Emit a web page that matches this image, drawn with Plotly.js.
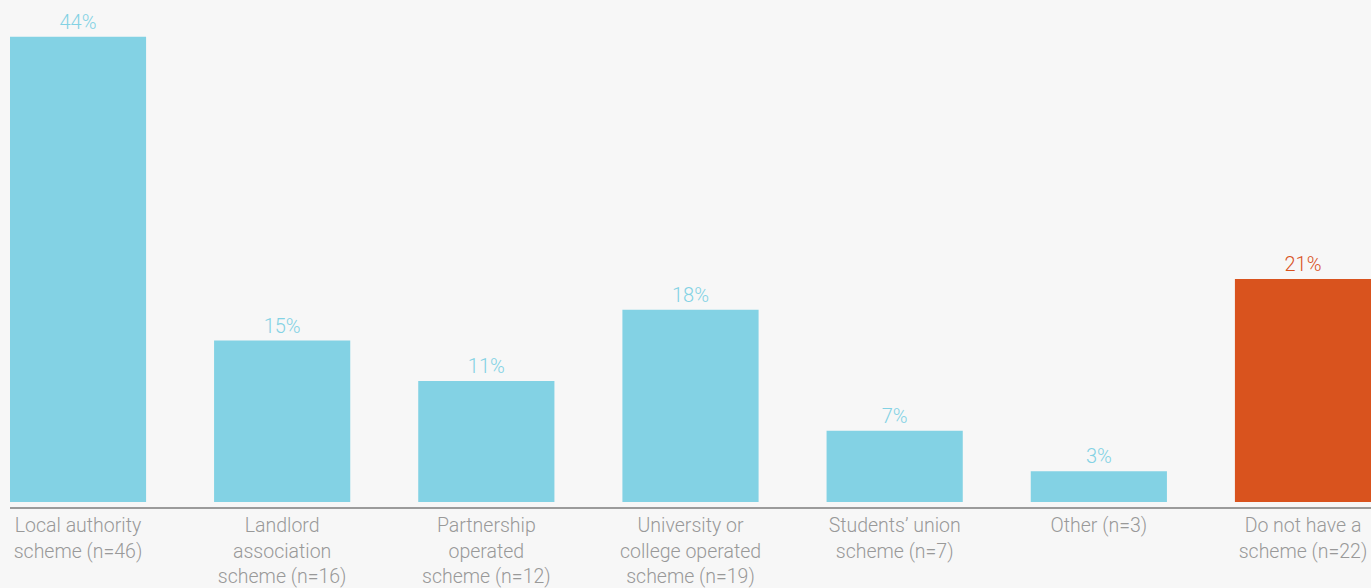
<!DOCTYPE html>
<html>
<head>
<meta charset="utf-8">
<script src="https://cdn.plot.ly/plotly-3.0.1.min.js"></script>
<style>html,body{margin:0;padding:0;background:#f7f7f7;}#chart{width:1371px;height:588px;}</style>
</head>
<body>
<div id="chart"></div>
<script>
const categories = [
  "Local authority<br>scheme (n=46)",
  "Landlord<br>association<br>scheme (n=16)",
  "Partnership<br>operated<br>scheme (n=12)",
  "University or<br>college operated<br>scheme (n=19)",
  "Students’ union<br>scheme (n=7)",
  "Other (n=3)",
  "Do not have a<br>scheme (n=22)"
];
const values = [43.8, 15.2, 11.4, 18.1, 6.7, 2.9, 21.0];
const valueLabels = ["44%", "15%", "11%", "18%", "7%", "3%", "21%"];
const barColors = ["#83d2e4", "#83d2e4", "#83d2e4", "#83d2e4", "#83d2e4", "#83d2e4", "#d9531e"];
const labelColors = ["#83d2e4", "#83d2e4", "#83d2e4", "#83d2e4", "#83d2e4", "#83d2e4", "#d9531e"];

const FONT = "Roboto, sans-serif";

Plotly.newPlot('chart', [{
  type: 'bar',
  x: categories,
  y: values,
  text: valueLabels,
  textposition: 'outside',
  cliponaxis: false,
  textfont: {family: FONT, size: 20, weight: 300, color: labelColors},
  marker: {color: barColors},
  hoverinfo: 'none'
}], {
  width: 1371, height: 588,
  margin: {l: 10, r: 0, t: 0, b: 81},
  paper_bgcolor: '#f7f7f7',
  plot_bgcolor: '#f7f7f7',
  bargap: 0.333,
  showlegend: false,
  font: {family: FONT, size: 19, weight: 300, color: '#999999'},
  xaxis: {
    type: 'category',
    range: [-0.333, 6.333],
    showline: true, linecolor: '#9b9b9b', linewidth: 2,
    ticks: '', showgrid: false, zeroline: false,
    tickfont: {family: FONT, size: 19.5, weight: 300, color: '#999999'},
    tickangle: 0
  },
  yaxis: {
    range: [-0.47, 47.27],
    visible: false, showgrid: false, zeroline: false
  }
}, {displayModeBar: false, staticPlot: true});
</script>
</body>
</html>
